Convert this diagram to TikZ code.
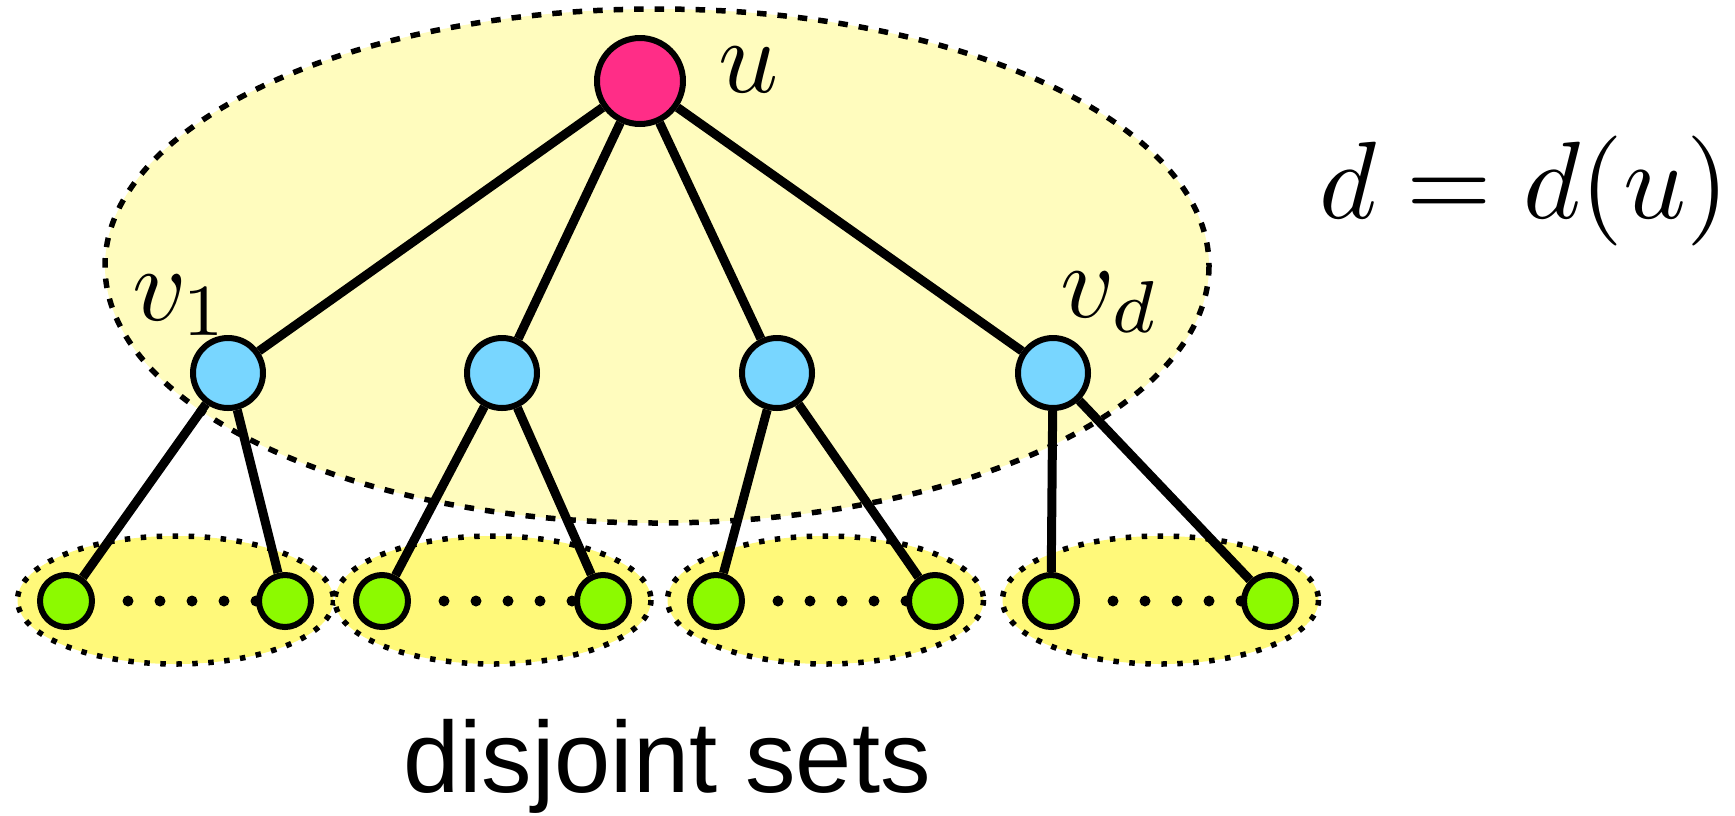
\documentclass[tikz,border=0pt]{standalone}
\usepackage{fontspec}
\newfontfamily\helv{Liberation Sans}
\definecolor{rootpink}{RGB}{255,45,135}
\definecolor{midblue}{RGB}{120,214,255}
\definecolor{leafgreen}{RGB}{140,250,0}
\definecolor{bigfill}{RGB}{255,252,190}
\definecolor{smallfill}{RGB}{255,249,122}
\tikzset{
  bigset/.style={fill=bigfill, draw=black, line width=5.5pt, dash pattern=on 9.5pt off 11pt},
  smallset/.style={fill=smallfill, draw=black, line width=5.5pt, dash pattern=on 5.5pt off 10.5pt},
  rootnode/.style={circle, draw=black, line width=6pt, fill=rootpink, minimum size=86pt, inner sep=0pt},
  midnode/.style={circle, draw=black, line width=6pt, fill=midblue, minimum size=70pt, inner sep=0pt},
  leafnode/.style={circle, draw=black, line width=6pt, fill=leafgreen, minimum size=52pt, inner sep=0pt},
  edgeline/.style={draw=black, line width=9pt},
  mathlabel/.style={scale=10.5, inner sep=0pt, anchor=base west},
}
\begin{document}
\begin{tikzpicture}[x=1pt,y=-1pt]
\useasboundingbox (0,0) rectangle (1735,815);
% big set
\path[bigset] (657,266) ellipse [x radius=552, y radius=257];
% small sets
\foreach \cx in {175.5,493,825.5,1160.5}
  \path[smallset] (\cx,600) ellipse [x radius=158, y radius=64];
% dots
\foreach \gx in {66,382,716,1051}
  \foreach \k in {0,...,4}
    \fill (\gx+62+32*\k,601) circle [radius=5.5];
% nodes
\node[rootnode] (u) at (640,81) {};
\node[midnode] (b1) at (228,373) {};
\node[midnode] (b2) at (502,373) {};
\node[midnode] (b3) at (777,373) {};
\node[midnode] (b4) at (1053,373) {};
\node[leafnode] (g1) at (66,601) {};
\node[leafnode] (g2) at (285,601) {};
\node[leafnode] (g3) at (382,601) {};
\node[leafnode] (g4) at (603,601) {};
\node[leafnode] (g5) at (716,601) {};
\node[leafnode] (g6) at (935,601) {};
\node[leafnode] (g7) at (1051,601) {};
\node[leafnode] (g8) at (1270,601) {};
% edges
\foreach \b in {b1,b2,b3,b4} \draw[edgeline] (u) -- (\b);
\draw[edgeline] (b1) -- (g1); \draw[edgeline] (b1) -- (g2);
\draw[edgeline] (b2) -- (g3); \draw[edgeline] (b2) -- (g4);
\draw[edgeline] (b3) -- (g5); \draw[edgeline] (b3) -- (g6);
\draw[edgeline] (b4) -- (g7); \draw[edgeline] (b4) -- (g8);
% labels
\node[mathlabel] (ulab) at (716,92) {$u$};
\node[mathlabel] (v1lab) at (130,320) {$v_1$};
\node[mathlabel] (vdlab) at (1058,317) {$v_d$};
\node[scale=11, inner sep=0pt, anchor=base] (deg) at (1524,218) {$d = d(u)$};
\node[font=\helv\fontsize{101}{104}\selectfont, inner sep=0pt, anchor=base] (disj) at (667,792) {disjoint sets};
\end{tikzpicture}
\end{document}
